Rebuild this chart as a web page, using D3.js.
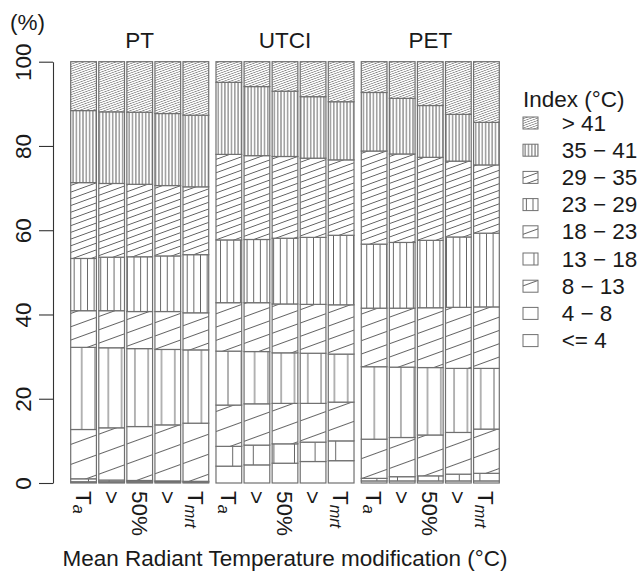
<!DOCTYPE html>
<html>
<head>
<meta charset="utf-8">
<script src="https://cdn.jsdelivr.net/npm/d3@7"></script>
<style>
  body { margin: 0; background: #fff; }
  text { font-family: "Liberation Sans", Arial, Helvetica, sans-serif; fill: #1a1a1a; }
</style>
</head>
<body>
<div id="chart"></div>
<script>
// index classes, bottom of the stack first
var classes = ["<= 4", "4 \u2212 8", "8 \u2212 13", "13 \u2212 18", "18 \u2212 23",
               "23 \u2212 29", "29 \u2212 35", "35 \u2212 41", "> 41"];
var groups = ["PT", "UTCI", "PET"];
// x labels: [main, subscript]
var steps = [["T", "a"], [">", ""], ["50%", ""], [">", ""], ["T", "mrt"]];
var yTicks = [0, 20, 40, 60, 80, 100];

// % per class (same order as classes), one row per bar Ta .. Tmrt
var ptValues = [
    [0.3, 0.7, 11.7, 19.5, 8.7, 12.4, 18.0, 17.1, 11.6],
    [0.3, 0.4, 12.4, 19.0, 8.8, 12.7, 17.5, 17.0, 11.9],
    [0.3, 0.3, 12.8, 18.5, 8.8, 13.0, 17.2, 17.1, 12.0],
    [0.3, 0.2, 13.3, 17.9, 9.0, 13.2, 16.7, 17.1, 12.3],
    [0.2, 0.2, 13.8, 17.4, 8.8, 13.8, 16.1, 17.0, 12.7]
];
var utciValues = [
    [4.0, 4.7, 9.8, 12.8, 11.5, 14.9, 20.3, 17.1, 4.9],
    [4.3, 4.7, 9.8, 12.4, 11.6, 15.0, 19.9, 16.4, 5.9],
    [4.7, 4.6, 9.6, 12.0, 11.6, 15.6, 19.4, 15.5, 7.0],
    [5.1, 4.6, 9.2, 11.9, 11.6, 15.9, 18.8, 14.6, 8.3],
    [5.3, 4.7, 9.2, 11.4, 11.7, 16.5, 17.9, 13.8, 9.5]
];
var petValues = [
    [0.5, 0.6, 9.3, 17.2, 13.9, 15.2, 22.1, 13.9, 7.3],
    [0.5, 1.0, 9.3, 16.7, 14.0, 15.6, 21.0, 13.2, 8.7],
    [0.5, 1.2, 9.7, 16.0, 14.2, 16.0, 19.7, 12.3, 10.4],
    [0.5, 1.6, 9.9, 15.2, 14.5, 16.7, 18.0, 11.1, 12.5],
    [0.5, 1.8, 10.5, 14.4, 14.6, 17.5, 16.2, 10.1, 14.4]
];

// hatching per class (v = vertical lines, d = slanted lines)
var hatch = [
    {type: "none"},
    {type: "v", gap: 20.6, off: 6.1},
    {type: "d", gap: 18.8},
    {type: "v", gap: 13.3, off: 1.9},
    {type: "d", gap: 12.5},
    {type: "v", gap: 6.65, off: 1},
    {type: "d", gap: 6.3},
    {type: "v", gap: 3.3, off: 0.5},
    {type: "d", gap: 2.2}
];

var svgWidth = 644;
var svgHeight = 573;
var fontSize = 22.5;
var lineCol = "#555";
var borderCol = "#707070";

var svg = d3.select("#chart")
    .append("svg")
    .attr("width", svgWidth)
    .attr("height", svgHeight);

//patterns
var defs = svg.append("defs");
hatch.forEach(function (h, k) {
    var p = defs.append("pattern")
        .attr("id", "hatch" + k)
        .attr("patternUnits", "userSpaceOnUse");
    if (h.type == "v") {
        p.attr("x", h.off - h.gap / 2).attr("width", h.gap).attr("height", 10);
        p.append("rect").attr("width", h.gap).attr("height", 10).attr("fill", "#fff");
        p.append("line")
            .attr("x1", h.gap / 2).attr("x2", h.gap / 2)
            .attr("y1", 0).attr("y2", 10);
    } else if (h.type == "d") {
        p.attr("width", 20).attr("height", h.gap)
            .attr("patternTransform", "rotate(-20)");
        p.append("rect").attr("width", 20).attr("height", h.gap).attr("fill", "#fff");
        p.append("line")
            .attr("x1", 0).attr("x2", 20)
            .attr("y1", h.gap / 2).attr("y2", h.gap / 2);
    } else {
        p.attr("width", 10).attr("height", 10);
        p.append("rect").attr("width", 10).attr("height", 10).attr("fill", "#fff");
    }
    p.selectAll("line")
        .attr("stroke", lineCol)
        .attr("stroke-width", h.gap < 3 ? 0.6 : 0.9);
});

//rows for the stack
var seriesByGroup = {PT: ptValues, UTCI: utciValues, PET: petValues};
var rows = [];
groups.forEach(function (g) {
    seriesByGroup[g].forEach(function (vals, i) {
        var row = {group: g, step: i};
        vals.forEach(function (v, k) { row[k] = v; });
        rows.push(row);
    });
});
var stacked = d3.stack().keys(d3.range(classes.length))(rows);

//scales
var xGroup = d3.scaleBand()
    .domain(groups)
    .range([70.7, 499.3])
    .paddingInner(0.05);
var xBar = d3.scaleBand()
    .domain(d3.range(steps.length))
    .range([0, xGroup.bandwidth()])
    .paddingInner(0.084);
var y = d3.scaleLinear()
    .domain([0, 100])
    .range([483, 61.7]);

//bars
var layers = svg.append("g").selectAll("g")
    .data(stacked)
    .enter()
    .append("g")
    .attr("fill", d => "url(#hatch" + d.key + ")");

layers.selectAll("rect")
    .data(d => d)
    .enter()
    .append("rect")
    .attr("x", d => xGroup(d.data.group) + xBar(d.data.step))
    .attr("y", d => y(d[1]))
    .attr("width", xBar.bandwidth())
    .attr("height", d => y(d[0]) - y(d[1]))
    .attr("stroke", borderCol)
    .attr("stroke-width", 1.2);

//y axis
var yAxis = d3.axisLeft(y)
    .tickValues(yTicks)
    .tickSize(14)
    .tickSizeOuter(0);

var yG = svg.append("g")
    .attr("transform", "translate(53,0)")
    .call(yAxis);
yG.select(".domain").attr("stroke", "#333").attr("stroke-width", 1.1);
yG.selectAll(".tick line").attr("stroke", "#333").attr("stroke-width", 1.1);
yG.selectAll(".tick text")
    .attr("x", 0)
    .attr("dy", null)
    .attr("transform", "translate(-22,0) rotate(-90)")
    .attr("text-anchor", "middle")
    .style("font-size", fontSize + "px")
    .attr("fill", "#1a1a1a");

svg.append("text")
    .attr("x", 10)
    .attr("y", 30)
    .style("font-size", fontSize + "px")
    .text("(%)");

//group titles
svg.selectAll(".gtitle")
    .data(groups)
    .enter()
    .append("text")
    .attr("class", "gtitle")
    .attr("x", d => xGroup(d) + xGroup.bandwidth() / 2)
    .attr("y", 48)
    .attr("text-anchor", "middle")
    .style("font-size", fontSize + "px")
    .text(d => d);

//x labels, rotated
groups.forEach(function (g) {
    steps.forEach(function (s, i) {
        var t = svg.append("text")
            .attr("transform", "translate(" + (xGroup(g) + xBar(i) + xBar.bandwidth() / 2) + ",491) rotate(90)")
            .attr("dominant-baseline", "central")
            .style("font-size", fontSize + "px");
        t.append("tspan").text(s[0]);
        if (s[1]) {
            t.append("tspan")
                .attr("baseline-shift", "-30%")
                .style("font-size", (fontSize * 0.72) + "px")
                .style("font-style", "italic")
                .text(s[1]);
        }
    });
});

svg.append("text")
    .attr("x", (xGroup.range()[0] + xGroup.range()[1]) / 2)
    .attr("y", 566)
    .attr("text-anchor", "middle")
    .style("font-size", fontSize + "px")
    .text("Mean Radiant Temperature modification (\u00B0C)");

//legend, top item is the highest class
var legend = svg.append("g");
legend.append("text")
    .attr("x", 523)
    .attr("y", 99)
    .attr("dominant-baseline", "central")
    .style("font-size", fontSize + "px")
    .text("Index (\u00B0C)");

var items = legend.selectAll(".item")
    .data(d3.range(classes.length).reverse())
    .enter()
    .append("g")
    .attr("class", "item")
    .attr("transform", (d, i) => "translate(0," + (123 + i * 27.2) + ")");

items.append("rect")
    .attr("x", 523)
    .attr("y", -6)
    .attr("width", 15)
    .attr("height", 12)
    .attr("fill", d => "url(#hatch" + d + ")")
    .attr("stroke", borderCol)
    .attr("stroke-width", 1);

items.append("text")
    .attr("x", 561.7)
    .attr("y", 0)
    .attr("dominant-baseline", "central")
    .style("font-size", fontSize + "px")
    .text(d => classes[d]);
</script>
</body>
</html>
